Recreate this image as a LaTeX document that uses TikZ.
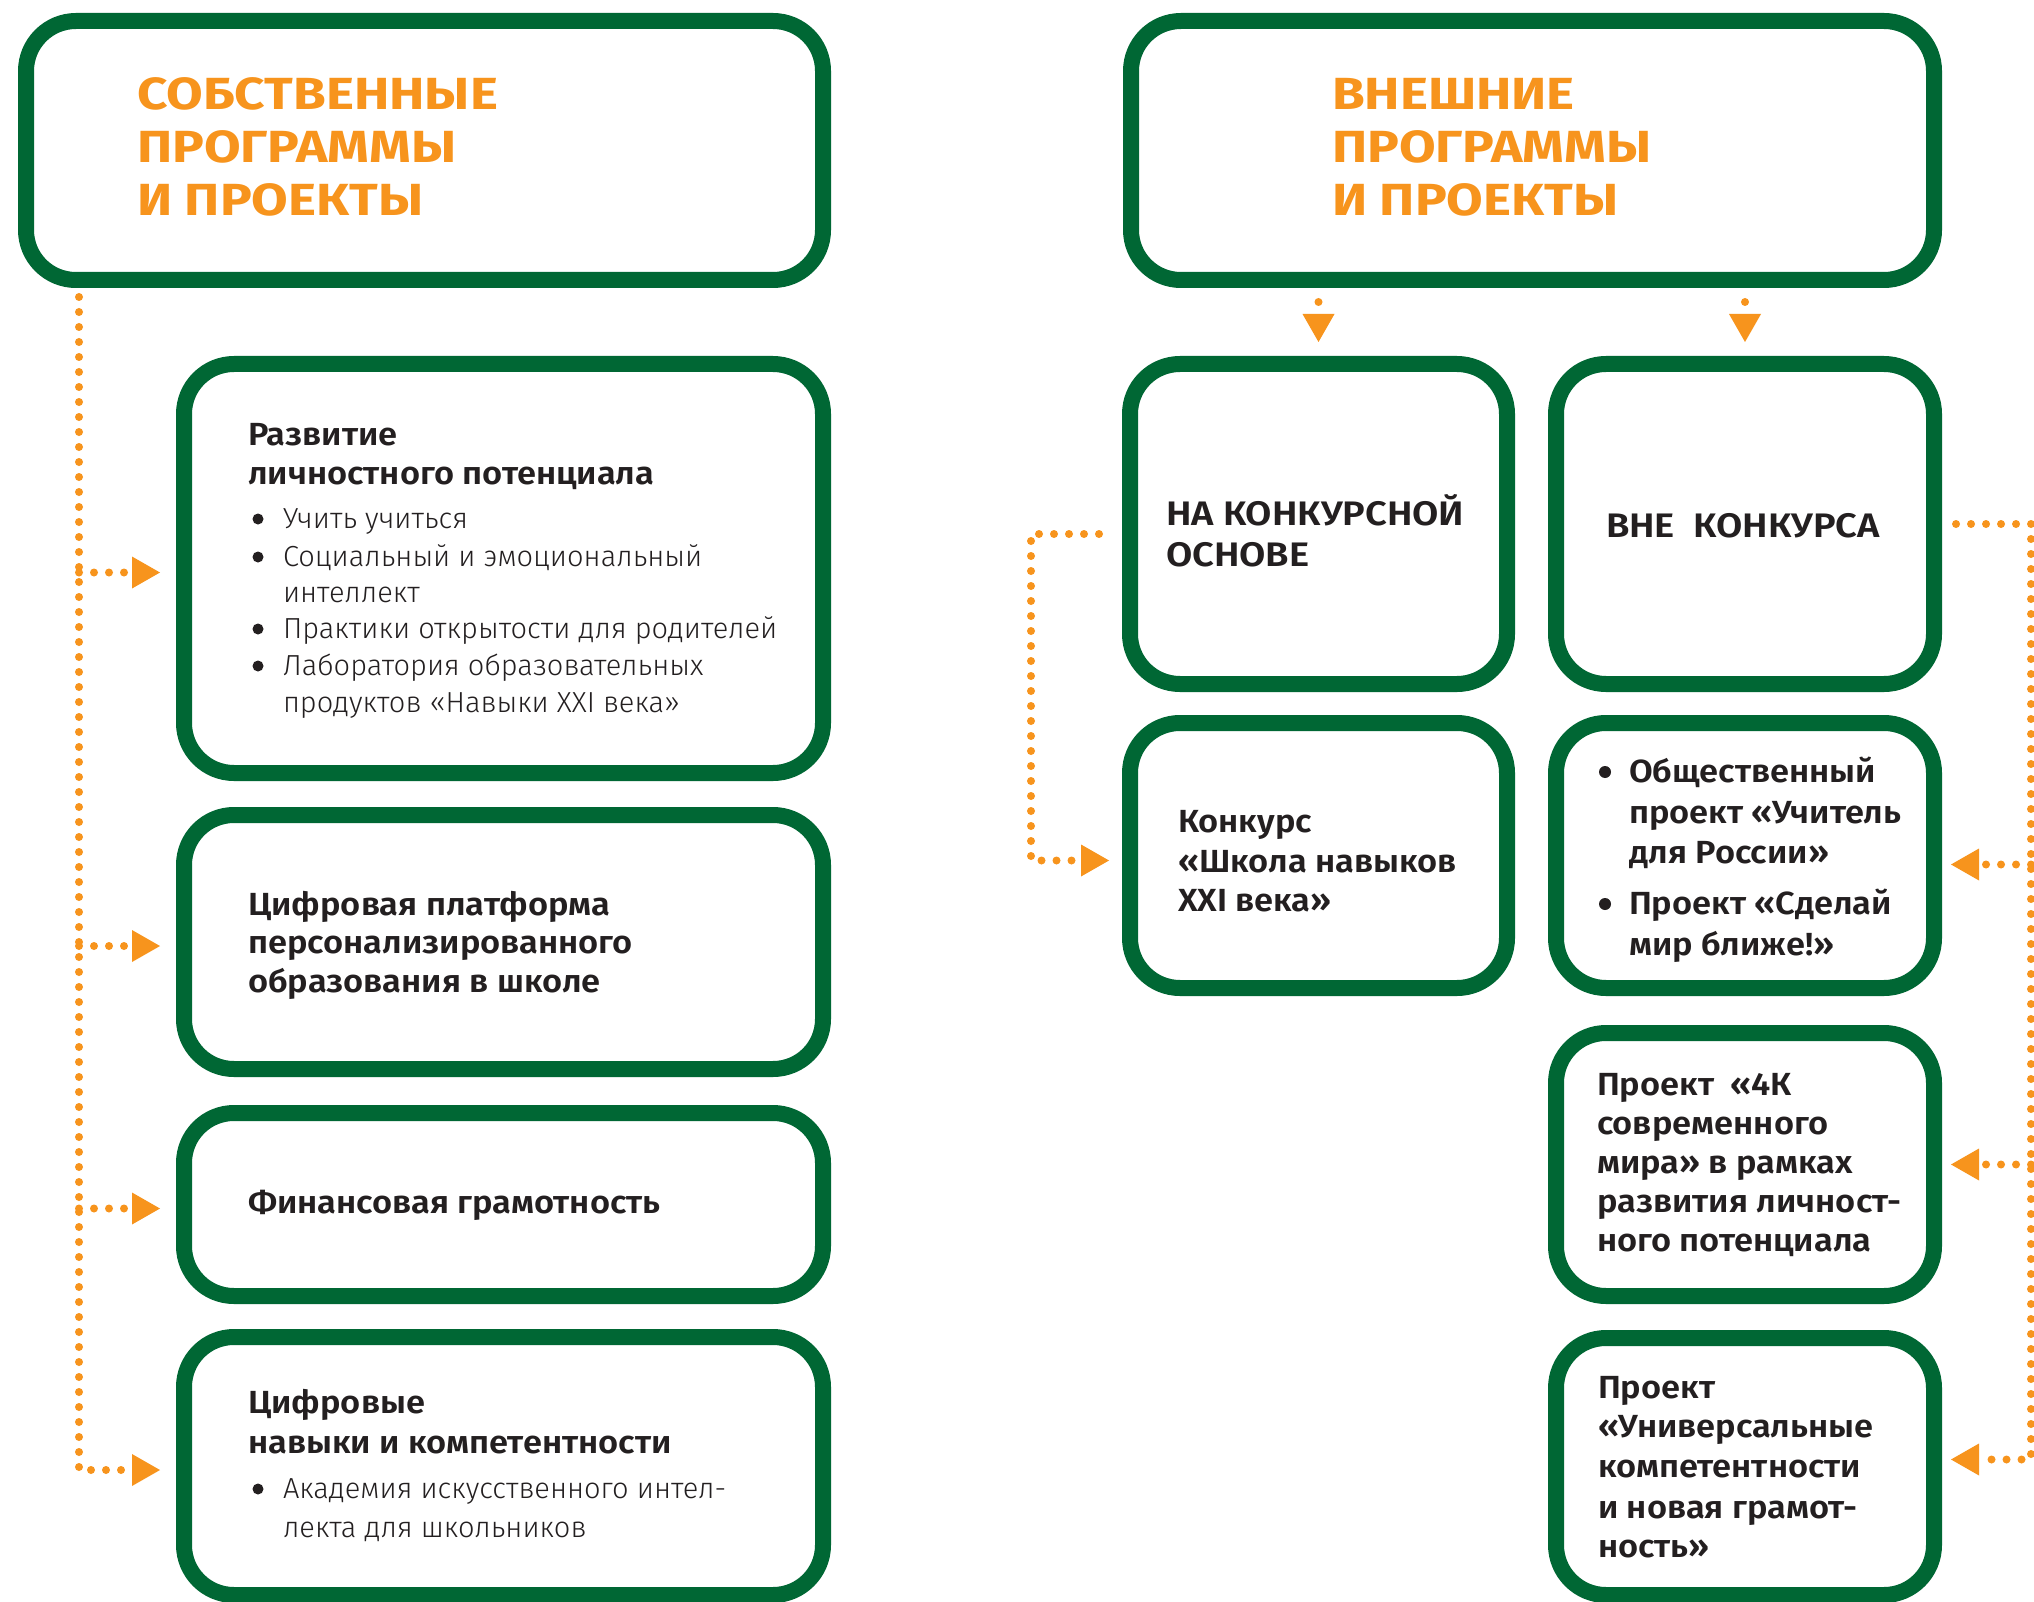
\documentclass[tikz,border=0pt]{standalone}
\usepackage{fontspec}
\setmainfont{Fira Sans}
\newfontfamily\fsemi{Fira Sans SemiBold}[FakeStretch=1.075]
\newfontfamily\fcaps{Fira Sans SemiBold}[FakeStretch=1.12]
\newfontfamily\ftitle{Fira Sans Bold}[FakeStretch=1.18]
\newfontfamily\flight{Fira Sans Light}
\usetikzlibrary{arrows.meta}
\definecolor{gr}{RGB}{0,103,52}
\definecolor{orng}{RGB}{247,148,29}
\definecolor{ink}{RGB}{35,31,32}
\tikzset{
 gbox/.style={draw=gr, line width=16pt, rounded corners=50pt, inner sep=0pt, fill=white, rectangle},
 tl/.style={anchor=base west, inner sep=0pt, outer sep=0pt, text=ink},
 ttl/.style={tl, text=orng, font=\fontsize{45}{53}\selectfont\ftitle},
 bt/.style={tl, font=\fontsize{32}{40}\selectfont\fsemi},
 ct/.style={tl, font=\fontsize{34}{40}\selectfont\fcaps},
 lt/.style={tl, font=\fontsize{29}{37}\selectfont\flight},
 dotl/.style={draw=orng, line width=8pt, line cap=round, dash pattern=on 0pt off 15pt},
 dota/.style={dotl, -{Triangle[length=28pt,width=32pt,line width=0pt]}},
 bul/.style={circle, fill=ink, inner sep=0pt, minimum size=12pt},
 lbul/.style={circle, fill=ink, inner sep=0pt, minimum size=11pt},
}
\newcommand\tx[5][bt]{\node[#1] (#2) at (#3,#4) {#5};}
\begin{document}
\begin{tikzpicture}[x=1pt,y=-1pt]
\useasboundingbox (0,0) rectangle (2034,1602);
\fill[white] (0,0) rectangle (2034,1602);
% boxes
\node[gbox, minimum width=797pt, minimum height=259pt] (own) at (424.5,150.5) {};
\node[gbox, minimum width=803pt, minimum height=259pt] (ext) at (1532.5,150.5) {};
\node[gbox, minimum width=639pt, minimum height=409pt] (razv) at (503.5,568.5) {};
\node[gbox, minimum width=639pt, minimum height=254pt] (cifp) at (503.5,942) {};
\node[gbox, minimum width=639pt, minimum height=183pt] (fin) at (503.5,1204.5) {};
\node[gbox, minimum width=639pt, minimum height=258pt] (cifn) at (503.5,1466) {};
\node[gbox, minimum width=377pt, minimum height=320pt] (nak) at (1318.5,524) {};
\node[gbox, minimum width=378pt, minimum height=320pt] (vne) at (1745,524) {};
\node[gbox, minimum width=377pt, minimum height=265pt] (konk) at (1318.5,855.5) {};
\node[gbox, minimum width=378pt, minimum height=265pt] (obsh) at (1745,855.5) {};
\node[gbox, minimum width=378pt, minimum height=263pt] (kfour) at (1745,1164.5) {};
\node[gbox, minimum width=378pt, minimum height=257pt] (univ) at (1745,1466.5) {};
% arrow end points
\coordinate (ltop) at (79,297);
\coordinate (ea) at ([xshift=-16pt,yshift=-4pt]razv.west);
\coordinate (eb) at ([xshift=-16pt,yshift=-4pt]cifp.west);
\coordinate (ec) at ([xshift=-16pt,yshift=-4pt]fin.west);
\coordinate (ed) at ([xshift=-16pt,yshift=-4pt]cifn.west);
\coordinate (ls) at ([xshift=-23pt,yshift=-10pt]nak.west);
\coordinate (le) at ([xshift=-13pt,yshift=-5pt]konk.west);
\coordinate (lloop) at (1031,0);
\coordinate (rs) at ([xshift=14pt]vne.east);
\coordinate (rtr) at (2031,0);
\coordinate (ra) at ([xshift=9pt,yshift=-9pt]obsh.east);
\coordinate (rb) at ([xshift=9pt]kfour.east);
\coordinate (rc) at ([xshift=9pt,yshift=7pt]univ.east);
% connectors left
\draw[dota] (ltop) |- (ed);
\draw[dota] (ltop |- ea) -- (ea);
\draw[dota] (ltop |- eb) -- (eb);
\draw[dota] (ltop |- ec) -- (ec);
% down arrows
\draw[dota] ([yshift=-14pt]ext.south -| nak.north) -- ([yshift=14pt]nak.north);
\draw[dota] ([yshift=-14pt]ext.south -| vne.north) -- ([yshift=14pt]vne.north);
% left loop
\draw[dota] (ls) -- (lloop |- ls) |- (le);
% right trunk
\draw[dota] (rs) -- (rtr |- rs) |- (rc);
\draw[dota] (rtr |- ra) -- (ra);
\draw[dota] (rtr |- rb) -- (rb);
% titles
\tx[ttl]{o1}{137}{110}{СОБСТВЕННЫЕ}
\tx[ttl]{o2}{137}{163}{ПРОГРАММЫ}
\tx[ttl]{o3}{137}{216}{И ПРОЕКТЫ}
\tx[ttl]{e1}{1332}{110}{ВНЕШНИЕ}
\tx[ttl]{e2}{1332}{163}{ПРОГРАММЫ}
\tx[ttl]{e3}{1332}{216}{И ПРОЕКТЫ}
% razv
\tx{r1}{248}{445}{Развитие}
\tx{r2}{248}{484}{личностного потенциала}
\node[lbul] (rb1) at (258,519) {};
\node[lbul] (rb2) at (258,557) {};
\node[lbul] (rb3) at (258,629) {};
\node[lbul] (rb4) at (258,666) {};
\tx[lt]{r3}{283}{528}{Учить учиться}
\tx[lt]{r4}{283}{566}{Социальный и эмоциональный}
\tx[lt]{r5}{283}{602}{интеллект}
\tx[lt]{r6}{283}{638}{Практики открытости для родителей}
\tx[lt]{r7}{283}{675}{Лаборатория образовательных}
\tx[lt]{r8}{283}{712}{продуктов «Навыки XXI века»}
% cifp
\tx{c1}{248}{915}{Цифровая платформа}
\tx{c2}{248}{953}{персонализированного}
\tx{c3}{248}{992}{образования в школе}
% fin
\tx{f1}{248}{1213}{Финансовая грамотность}
% cifn
\tx{d1}{248}{1413}{Цифровые}
\tx{d2}{248}{1453}{навыки и компетентности}
\node[lbul] (db1) at (258,1489) {};
\tx[lt]{d3}{283}{1498}{Академия искусственного интел-}
\tx[lt]{d4}{283}{1537}{лекта для школьников}
% nak, vne
\tx[ct]{n1}{1166}{525}{НА КОНКУРСНОЙ}
\tx[ct]{n2}{1166}{566}{ОСНОВЕ}
\tx[ct]{v1}{1606}{537}{ВНЕ~~КОНКУРСА}
% konk
\tx{k1}{1178}{832}{Конкурс}
\tx{k2}{1178}{872}{«Школа навыков}
\tx{k3}{1178}{911}{XXI века»}
% obsh
\node[bul] (ob1) at (1605,772) {};
\node[bul] (ob2) at (1605,904) {};
\tx{s1}{1629}{782}{Общественный}
\tx{s2}{1629}{823}{проект «Учитель}
\tx{s3}{1629}{863}{для России»}
\tx{s4}{1629}{914}{Проект «Сделай}
\tx{s5}{1629}{955}{мир ближе!»}
% kfour
\tx{q1}{1597}{1095}{Проект~~«4К}
\tx{q2}{1597}{1134}{современного}
\tx{q3}{1597}{1173}{мира» в рамках}
\tx{q4}{1597}{1212}{развития личност-}
\tx{q5}{1597}{1251}{ного потенциала}
% univ
\tx{u1}{1598}{1398}{Проект}
\tx{u2}{1598}{1437}{«Универсальные}
\tx{u3}{1598}{1477}{компетентности}
\tx{u4}{1598}{1518}{и новая грамот-}
\tx{u5}{1598}{1557}{ность»}
\end{tikzpicture}
\end{document}
